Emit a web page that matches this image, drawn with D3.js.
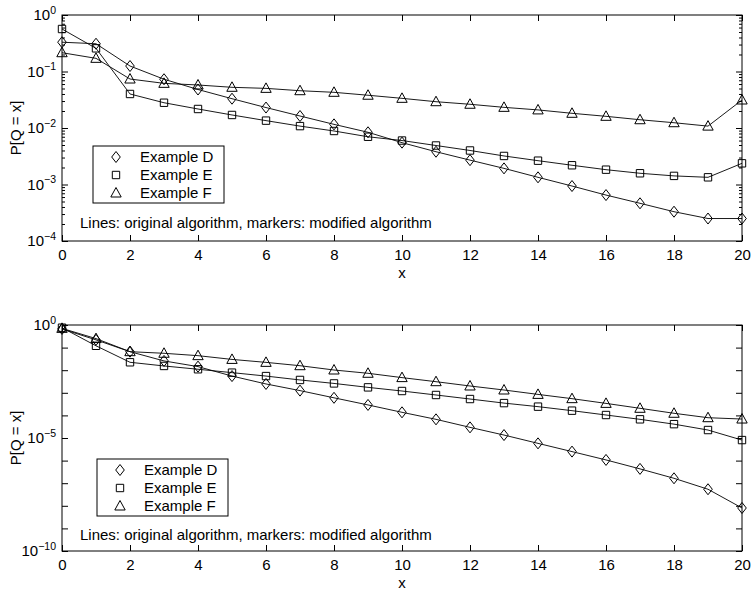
<!DOCTYPE html>
<html>
<head>
<meta charset="utf-8">
<script src="https://cdn.jsdelivr.net/npm/d3@7"></script>
<style>
  body { margin: 0; background: #fff; }
  text { font-family: "Liberation Sans", Arial, sans-serif; fill: #000; }
</style>
</head>
<body>
<div id="chart"></div>
<script>
// x values shared by every series
const xValues = d3.range(0, 21);
const seriesNames = ["Example D", "Example E", "Example F"];
const noteText = "Lines: original algorithm, markers: modified algorithm";

// top panel, values
const topD = [0.33, 0.31, 0.125, 0.073, 0.048, 0.033, 0.023, 0.0163, 0.0116, 0.0084, 0.0055,
    0.0038, 0.0027, 0.00193, 0.00134, 0.00094, 0.00065, 0.000465, 0.00033, 0.00025, 0.00025];
const topE = [0.565, 0.257, 0.040, 0.028, 0.0217, 0.017, 0.0135, 0.0108, 0.00885, 0.0070, 0.0060,
    0.0049, 0.0040, 0.0032, 0.00264, 0.00219, 0.00183, 0.00158, 0.00142, 0.00134, 0.00237];
const topF = [0.215, 0.171, 0.0736, 0.0617, 0.0577, 0.0525, 0.0503, 0.0457, 0.0428, 0.038, 0.0335,
    0.0292, 0.0263, 0.0232, 0.0209, 0.0182, 0.0161, 0.0140, 0.0124, 0.0108, 0.0313];

// bottom panel
const botD = [0.67, 0.22, 0.066, 0.0257, 0.0144, 0.0055, 0.00246, 0.00125, 0.0006, 0.00029, 1.37e-4,
    6.7e-5, 2.96e-5, 1.35e-5, 5.8e-6, 2.5e-6, 1.07e-6, 4.3e-7, 1.65e-7, 5.4e-8, 8.0e-9];
const botE = [0.76, 0.12, 0.0224, 0.0154, 0.011, 0.0078, 0.0055, 0.0037, 0.0026, 0.00174, 0.0012,
    0.0008, 0.00053, 0.00035, 0.000244, 0.000162, 0.000104, 6.7e-5, 4.1e-5, 2.25e-5, 8.1e-6];
const botF = [0.71, 0.25, 0.066, 0.056, 0.044, 0.030, 0.0222, 0.0158, 0.0102, 0.0073, 0.0047,
    0.0031, 0.0020, 0.00133, 0.00085, 0.00055, 0.00034, 0.000206, 0.000124, 7.9e-5, 6.9e-5];

// tick labels
const xTicks = [0, 2, 4, 6, 8, 10, 12, 14, 16, 18, 20];
const topYExps = [0, -1, -2, -3, -4];
const botYExps = [0, -5, -10];

const svg = d3.select("#chart")
    .append("svg")
    .attr("width", 751)
    .attr("height", 591);

// marker shapes (MATLAB style, hollow)
function markerPath(kind) {
    const p = d3.path();
    if (kind === 0) {          // diamond
        p.moveTo(0, -5.5); p.lineTo(4.3, 0); p.lineTo(0, 5.5); p.lineTo(-4.3, 0); p.closePath();
    } else if (kind === 1) {   // square
        p.rect(-3.7, -3.7, 7.4, 7.4);
    } else {                   // triangle
        p.moveTo(0, -5.5); p.lineTo(5.2, 4); p.lineTo(-5.2, 4); p.closePath();
    }
    return p.toString();
}

function drawPanel(cfg) {
    const left = 62, right = 742;
    const x = d3.scaleLinear().domain([0, 20]).range([left, right]);
    const y = d3.scaleLog().domain(cfg.domain).range([cfg.bottom, cfg.top]);
    const g = svg.append("g");

    // tick marks all pointing inward
    g.append("g")
        .attr("transform", `translate(0,${cfg.bottom})`)
        .call(d3.axisBottom(x).tickValues(xTicks).tickSize(-6).tickPadding(8.5))
        .call(a => a.select(".domain").remove())
        .selectAll("text").style("font-size", "15px");
    g.append("g")
        .attr("transform", `translate(0,${cfg.top})`)
        .call(d3.axisTop(x).tickValues(xTicks).tickSize(-6).tickFormat(""))
        .call(a => a.select(".domain").remove());

    const major = cfg.majorTicks;
    [[d3.axisLeft, left], [d3.axisRight, right]].forEach(([ax, pos]) => {
        g.append("g")
            .attr("transform", `translate(${pos},0)`)
            .call(ax(y).tickValues(major).tickSize(-6).tickFormat(""))
            .call(a => a.select(".domain").remove());
        if (cfg.minorTicks.length) {
            g.append("g")
                .attr("transform", `translate(${pos},0)`)
                .call(ax(y).tickValues(cfg.minorTicks).tickSize(-3).tickFormat(""))
                .call(a => a.select(".domain").remove());
        }
    });
    g.selectAll(".tick line").attr("stroke", "#000");

    // y tick labels with superscripts
    const lab = g.selectAll(".ylab")
        .data(cfg.labelExps)
        .enter()
        .append("text")
        .attr("class", "ylab")
        .attr("x", 56)
        .attr("y", d => y(Math.pow(10, d)))
        .attr("dy", "0.35em")
        .attr("text-anchor", "end")
        .style("font-size", "15px");
    lab.append("tspan").text("10");
    lab.append("tspan")
        .attr("dy", "-0.6em")
        .style("font-size", "10.5px")
        .text(d => d === 0 ? "0" : "\u2212" + Math.abs(d));

    // box
    g.append("rect")
        .attr("x", left).attr("y", cfg.top)
        .attr("width", right - left).attr("height", cfg.bottom - cfg.top)
        .attr("fill", "none").attr("stroke", "#000").attr("stroke-width", 1);

    // lines and markers
    const line = d3.line().x((d, i) => x(xValues[i])).y(d => y(d));
    cfg.series.forEach((vals, k) => {
        g.append("path")
            .datum(vals)
            .attr("d", line)
            .attr("fill", "none")
            .attr("stroke", "#000")
            .attr("stroke-width", 0.9);
        g.selectAll(".m" + k)
            .data(vals)
            .enter()
            .append("path")
            .attr("class", "m" + k)
            .attr("transform", (d, i) => `translate(${x(xValues[i])},${y(d)})`)
            .attr("d", markerPath(k))
            .attr("fill", "none")
            .attr("stroke", "#000")
            .attr("stroke-width", 1);
    });

    // axis labels
    g.append("text")
        .attr("x", (left + right) / 2)
        .attr("y", cfg.bottom + 37)
        .attr("text-anchor", "middle")
        .style("font-size", "15px")
        .text("x");
    g.append("text")
        .attr("transform", `translate(21,${(cfg.top + cfg.bottom) / 2}) rotate(-90)`)
        .attr("text-anchor", "middle")
        .style("font-size", "15px")
        .text("P[Q = x]");

    // legend
    const lg = cfg.legend;
    g.append("rect")
        .attr("x", lg.x).attr("y", lg.y)
        .attr("width", lg.w).attr("height", lg.h)
        .attr("fill", "#fff").attr("stroke", "#000").attr("stroke-width", 1);
    seriesNames.forEach((name, k) => {
        const cy = lg.y + 11 + k * 18;
        g.append("path")
            .attr("transform", `translate(${lg.x + 23},${cy})`)
            .attr("d", markerPath(k))
            .attr("fill", "none").attr("stroke", "#000");
        g.append("text")
            .attr("x", lg.x + 47)
            .attr("y", cy)
            .attr("dy", "0.35em")
            .style("font-size", "15px")
            .text(name);
    });

    g.append("text")
        .attr("x", 80)
        .attr("y", cfg.noteY)
        .style("font-size", "15px")
        .text(noteText);
}

const topMinor = [];
[-4, -3, -2, -1].forEach(e => d3.range(2, 10).forEach(m => topMinor.push(m * Math.pow(10, e))));

drawPanel({
    top: 15, bottom: 241,
    domain: [1e-4, 1],
    majorTicks: topYExps.map(e => Math.pow(10, e)),
    minorTicks: topMinor,
    labelExps: topYExps,
    series: [topD, topE, topF],
    legend: { x: 93, y: 146, w: 131, h: 57 },
    noteY: 228
});

drawPanel({
    top: 325, bottom: 551,
    domain: [1e-10, 1],
    majorTicks: d3.range(-10, 1).map(e => Math.pow(10, e)),
    minorTicks: [],
    labelExps: botYExps,
    series: [botD, botE, botF],
    legend: { x: 97, y: 459, w: 131, h: 57 },
    noteY: 540
});
</script>
</body>
</html>
